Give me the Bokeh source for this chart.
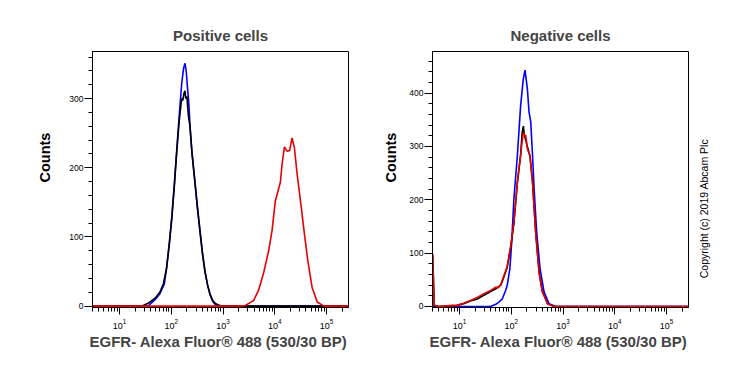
import math
from bokeh.plotting import figure
from bokeh.layouts import row
from bokeh.models import Label, SingleIntervalTicker, LogTicker
from bokeh.embed import file_html
from bokeh.resources import INLINE

# ---------------- data ----------------
X_MIN, X_MAX = 3.0, 265000.0

# Positive cells
pos_blue_x = [3, 35.5, 38.9, 47.9, 60.3, 73.3, 81.3, 91.2, 101.9, 114.8, 127, 141.3, 158.5, 171.8, 184,
              195, 204, 214, 221, 229, 251, 282, 316, 355, 398, 447, 501, 562, 631, 708, 794, 265000]
pos_blue_y = [0, 0, 3, 9, 18, 32, 56, 90, 128, 178, 225, 273, 321, 343, 351,
              338, 318, 300, 285, 262, 222, 185, 147, 112, 78, 50, 30, 16, 7, 2, 0, 0]

pos_black_x = [3, 28, 28.6, 35.5, 48, 60, 70, 81, 91, 102, 115, 127, 141, 158, 166, 176, 184,
               190, 200, 214, 229, 251, 282, 316, 355, 398, 447, 501, 562, 631, 708, 794, 933, 265000]
pos_black_y = [0, 0, 1, 4, 11, 20, 32, 55, 88, 126, 176, 222, 265, 300, 297, 308, 311,
               300, 303, 275, 260, 220, 183, 145, 110, 77, 50, 31, 17, 8, 4, 2, 0, 0]

pos_red_x = [3, 1850, 2690, 3890, 4850, 6030, 7590, 8830, 10230, 12790, 13800, 15280, 17220,
             19360, 21530, 23880, 26920, 32360, 37330, 43250, 52480, 65770, 88310, 265000]
pos_red_y = [0, 0, 1, 8, 23, 47, 80, 109, 152, 179, 205, 230, 224,
             225, 243, 229, 191, 143, 104, 66, 27, 6, 0, 0]

# Negative cells
neg_blue_x = [3.0, 3.2, 39.8, 50.1, 57.5, 66.8, 77.6, 83.6, 94, 101.4, 112.2, 130.9, 151.4, 169.8,
              183.7, 204.2, 219.8, 237.1, 257, 275.4, 309, 359, 430, 537, 724, 265000]
neg_blue_y = [4, 0, 0, 4, 8, 14, 30, 40, 72, 118, 202, 283, 377, 425,
              443, 408, 365, 346, 283, 221, 139, 71, 27, 5, 0, 0]

neg_red_x = [3.02, 3.24, 4.0, 5.7, 8.9, 12, 16.2, 21.9, 29.5, 39.8, 50.1, 56.2, 63.1, 66.8, 83.2,
             97.7, 112.2, 130.9, 151.4, 160, 171, 182, 189.7, 204, 229, 257, 295, 343.6, 398, 501,
             676, 265000]
neg_red_y = [98, 2, 0, 1, 2, 6, 11, 17, 24, 30, 36, 35, 42, 49, 75,
             115, 158, 233, 283, 305, 326, 320, 321, 296, 283, 233, 139, 64, 27, 5,
             0, 0]

neg_black_x = [3.02, 3.24, 4.0, 5.7, 8.9, 12, 16.2, 21.9, 29.5, 39.8, 50.1, 56.2, 63.1, 66.8, 83.2,
               97.7, 112.2, 130.9, 151.4, 162, 171, 178, 189.7, 204, 229, 257, 295, 343.6, 398,
               501, 676, 265000]
neg_black_y = [98, 2, 0, 1, 2, 5, 10, 14, 21, 28, 33, 37, 40, 47, 73,
               112, 156, 232, 285, 326, 338, 322, 312, 300, 282, 233, 140, 65, 28,
               5, 0, 0]

TITLES = ["Positive cells", "Negative cells"]
X_LABEL = "EGFR- Alexa Fluor® 488  (530/30 BP)"
Y_LABEL = "Counts"
COPYRIGHT = "Copyright (c) 2019 Abcam Plc"

BLUE = "#0000ff"
BLACK = "#000000"
RED = "#e60000"
FONT = "Liberation Sans"
H = 362


def make_fig(title, width, bl, br, ymax, curves):
    p = figure(width=width, height=H, x_axis_type="log",
               x_range=(X_MIN, X_MAX), y_range=(-2, ymax),
               output_backend="svg", toolbar_location=None,
               min_border_left=bl, min_border_right=br,
               min_border_top=51, min_border_bottom=55)
    p.title.text = title
    p.title.align = "center"
    p.title.text_font = FONT
    p.title.text_font_size = "15px"
    p.title.text_font_style = "bold"
    p.title.standoff = 15
    p.grid.visible = False
    p.outline_line_color = "black"
    p.outline_line_alpha = 1
    p.outline_line_width = 1
    p.background_fill_color = "white"
    p.border_fill_color = "white"

    p.xaxis.ticker = LogTicker(num_minor_ticks=10)
    p.yaxis.ticker = SingleIntervalTicker(interval=100, num_minor_ticks=5)
    for ax in (p.xaxis[0], p.yaxis[0]):
        ax.axis_line_color = "black"
        ax.major_tick_line_color = "black"
        ax.minor_tick_line_color = "black"
        ax.major_tick_in = 0
        ax.minor_tick_in = 0
        ax.minor_tick_out = 4
        ax.major_label_text_font = FONT
        ax.major_label_text_color = "black"
    p.xaxis.major_label_text_font_size = "9px"
    p.yaxis.major_label_text_font_size = "8.5px"
    p.xaxis.major_tick_out = 7
    p.yaxis.major_tick_out = 8
    p.xaxis.major_label_standoff = 4
    p.yaxis.major_label_standoff = 1
    p.xaxis.axis_label = X_LABEL
    p.xaxis.axis_label_text_font = FONT
    p.xaxis.axis_label_text_font_size = "15px"
    p.xaxis.axis_label_text_font_style = "bold"
    p.xaxis.axis_label_standoff = 1

    for xs, ys, c in curves:
        p.line(xs, ys, line_color=c, line_width=1.6)
    return p


def side_fig(width, text, tx, ty, size, style):
    s = figure(width=width, height=H, x_range=(0, width), y_range=(0, H),
               output_backend="svg", toolbar_location=None, title=None,
               x_axis_location=None, y_axis_location=None,
               min_border=0, min_border_left=0, min_border_right=0,
               min_border_top=0, min_border_bottom=0)
    s.grid.visible = False
    s.outline_line_color = None
    s.background_fill_color = "white"
    s.border_fill_color = "white"
    s.add_layout(Label(x=tx, y=ty, text=text, angle=math.pi / 2,
                       text_align="center", text_baseline="middle",
                       text_font=FONT, text_font_size=size,
                       text_font_style=style, text_color="black"))
    return s


p1 = make_fig(TITLES[0], 310, 32, 22, 368,
              [(pos_blue_x, pos_blue_y, BLUE), (pos_black_x, pos_black_y, BLACK),
               (pos_red_x, pos_red_y, RED)])
p2 = make_fig(TITLES[1], 290, 32, 2, 478,
              [(neg_blue_x, neg_blue_y, BLUE), (neg_black_x, neg_black_y, BLACK),
               (neg_red_x, neg_red_y, RED)])
c1 = side_fig(60, Y_LABEL, 44, 212, "14.5px", "bold")
c2 = side_fig(30, Y_LABEL, 20, 212, "14.5px", "bold")
c3 = side_fig(41, COPYRIGHT, 13, 140, "10.5px", "normal")

layout = row(c1, p1, c2, p2, c3)
open("out.html", "w").write(file_html(layout, INLINE))
